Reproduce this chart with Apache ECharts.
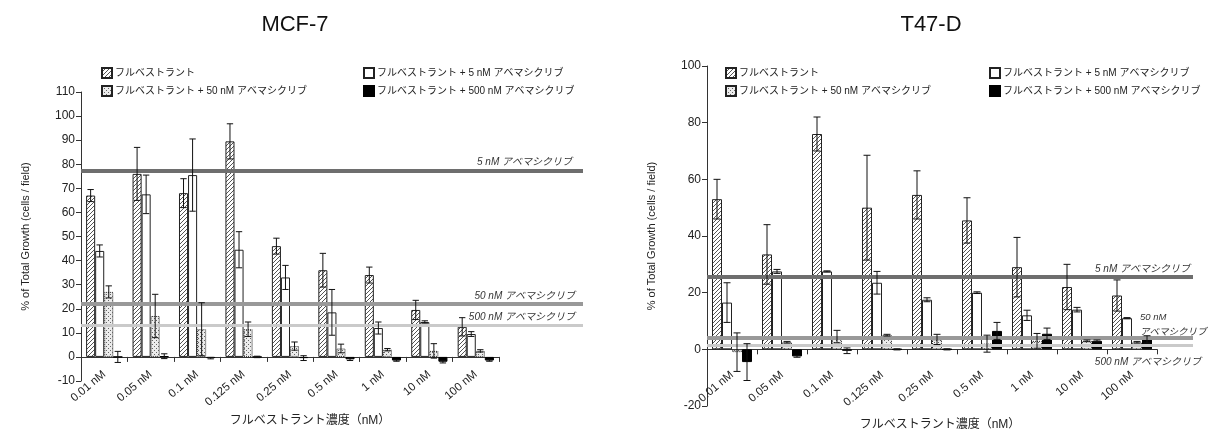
<!DOCTYPE html>
<html>
<head>
<meta charset="utf-8">
<script src="https://cdn.jsdelivr.net/npm/echarts@6/dist/echarts.min.js"></script>
<style>
    html, body { margin: 0; padding: 0; background: #fff; }
    #main { width: 1213px; height: 432px; }
</style>
</head>
<body>
<div id="main"></div>
<script>
var categories = ['0.01 nM', '0.05 nM', '0.1 nM', '0.125 nM', '0.25 nM', '0.5 nM', '1 nM', '10 nM', '100 nM'];
var seriesNames = ['フルベストラント', 'フルベストラント + 5 nM アベマシクリブ', 'フルベストラント + 50 nM アベマシクリブ', 'フルベストラント + 500 nM アベマシクリブ'];

// MCF-7
var mcfFul = [67, 76, 68, 89.5, 46, 36, 34, 19.5, 12.5];
var mcfFulErr = [2.5, 11, 6, 7.3, 3.3, 7, 3.3, 4, 3.8];
var mcf5 = [44, 67.5, 75.5, 44.5, 33, 18.5, 12, 14.5, 9.5];
var mcf5Err = [2.5, 8, 15, 7.5, 5, 9.5, 2.5, 0.5, 1];
var mcf50 = [27, 17, 11.5, 11.5, 4.5, 3.5, 3, 2.5, 2.5];
var mcf50Err = [2.5, 9, 11, 3, 1.7, 1.8, 0.5, 3, 0.5];
var mcf500 = [0, 0.3, -0.5, 0, -0.5, -1, -1.5, -2, -1.5];
var mcf500Err = [2.3, 1, 0.3, 0.3, 1, 0.5, 0.3, 0.5, 0.3];
var mcfRef = [77.5, 22, 13.3];

// T47-D
var t47Ful = [53, 33.5, 76, 50, 54.5, 45.5, 29, 22, 19];
var t47FulErr = [7, 10.5, 6, 18.5, 8.5, 8, 10.5, 8, 5.5];
var t475 = [16.5, 27.5, 27.5, 23.5, 17.5, 20, 12, 14, 11];
var t475Err = [7, 0.7, 0.2, 4, 0.7, 0.3, 1.8, 0.8, 0.2];
var t4750 = [-1, 2.5, 4.5, 5, 3.5, 2, 3, 3, 2.5];
var t4750Err = [6.8, 0.3, 2.2, 0.3, 1.8, 3, 2.6, 0.3, 0.3];
var t47500 = [-4.5, -2.5, -0.5, 0, 0, 6.5, 5.5, 3, 3.5];
var t47500Err = [6.5, 0.3, 1, 0.2, 0.2, 3, 2, 0.3, 1.3];
var t47Ref = [25.5, 4, 1.5];

var refNames = ['5 nM アベマシクリブ', '50 nM アベマシクリブ', '500 nM アベマシクリブ'];

var FONT = "'Liberation Sans', 'Noto Sans CJK JP', sans-serif";

function hatchPattern() {
    var c = document.createElement('canvas');
    c.width = 4; c.height = 4;
    var ctx = c.getContext('2d');
    ctx.fillStyle = '#fff';
    ctx.fillRect(0, 0, 4, 4);
    ctx.strokeStyle = '#555';
    ctx.lineWidth = 1;
    ctx.beginPath();
    ctx.moveTo(-1, 5); ctx.lineTo(5, -1);
    ctx.moveTo(-3, 3); ctx.lineTo(3, -3);
    ctx.moveTo(1, 7); ctx.lineTo(7, 1);
    ctx.stroke();
    return c;
}

function dotPattern() {
    var c = document.createElement('canvas');
    c.width = 4; c.height = 4;
    var ctx = c.getContext('2d');
    ctx.fillStyle = '#ececec';
    ctx.fillRect(0, 0, 4, 4);
    ctx.fillStyle = '#666';
    ctx.fillRect(0, 0, 1, 1);
    ctx.fillRect(2, 2, 1, 1);
    return c;
}

var styles = [
    { color: { image: hatchPattern(), repeat: 'repeat' }, borderColor: '#222', borderWidth: 1 },
    { color: '#fff', borderColor: '#222', borderWidth: 1 },
    { color: { image: dotPattern(), repeat: 'repeat' }, borderColor: '#222', borderWidth: 1, borderType: 'dotted' },
    { color: '#000', borderColor: '#000', borderWidth: 1 }
];

function errorRenderer(k, gap) {
    return function (params, api) {
        var cat = api.value(0), v = api.value(1), e = api.value(2);
        var cw = api.size([1, 0])[0];
        var bw = cw * (1 - gap) / 4;
        var x = api.coord([cat, 0])[0] + (k - 1.5) * bw;
        var yTop = api.coord([cat, v + e])[1];
        var yBot = api.coord([cat, v - e])[1];
        var cap = bw * 0.35;
        var st = { stroke: '#111', lineWidth: 1 };
        return {
            type: 'group',
            children: [
                { type: 'line', shape: { x1: x, y1: yTop, x2: x, y2: yBot }, style: st },
                { type: 'line', shape: { x1: x - cap, y1: yTop, x2: x + cap, y2: yTop }, style: st },
                { type: 'line', shape: { x1: x - cap, y1: yBot, x2: x + cap, y2: yBot }, style: st }
            ]
        };
    };
}

function buildSeries(axisIdx, gap, values, errs, refs, refLabels) {
    var out = [];
    for (var k = 0; k < 4; k++) {
        out.push({
            name: seriesNames[k],
            type: 'bar',
            xAxisIndex: axisIdx,
            yAxisIndex: axisIdx,
            barGap: 0,
            barCategoryGap: (gap * 100) + '%',
            itemStyle: styles[k],
            z: 2,
            data: values[k]
        });
    }
    for (var k = 0; k < 4; k++) {
        var d = [];
        for (var i = 0; i < categories.length; i++) {
            d.push([i, values[k][i], errs[k][i]]);
        }
        out.push({
            name: 'err' + k,
            type: 'custom',
            xAxisIndex: axisIdx,
            yAxisIndex: axisIdx,
            renderItem: errorRenderer(k, gap),
            encode: { x: 0, y: 1 },
            z: 5,
            data: d
        });
    }
    var lineCols = ['#6e6e6e', '#999999', '#cacaca'];
    var lineW = [4, 4, 3];
    var mdata = [];
    for (var j = 0; j < 3; j++) {
        mdata.push({
            yAxis: refs[j],
            lineStyle: { color: lineCols[j], width: lineW[j], type: 'solid' },
            label: refLabels[j]
        });
    }
    out.push({
        name: 'ref',
        type: 'line',
        xAxisIndex: axisIdx + 2,
        yAxisIndex: axisIdx + 2,
        data: [],
        z: 4,
        markLine: {
            silent: true,
            symbol: 'none',
            animation: false,
            data: mdata
        }
    });
    return out;
}

function refLabel(text, pos, extra) {
    var l = {
        show: true,
        formatter: text,
        position: pos,
        fontStyle: 'italic',
        fontSize: 10,
        color: '#333',
        fontFamily: FONT,
        distance: 3
    };
    for (var key in extra) l[key] = extra[key];
    return l;
}

var mcfLabels = [
    refLabel(refNames[0], 'insideEndTop', { offset: [-8, 0] }),
    refLabel(refNames[1], 'insideEndTop', { offset: [-5, 0] }),
    refLabel(refNames[2], 'insideEndTop', { offset: [-5, 0] })
];
var t47Labels = [
    refLabel(refNames[0], 'insideEndTop', {}),
    refLabel('{a|50 nM}\n{a|アベマシクリブ}', 'insideEndTop', {
        distance: 1,
        offset: [16, 3],
        rich: { a: { width: 68, align: 'left', fontStyle: 'italic', fontSize: 9.5, color: '#333', fontFamily: FONT, lineHeight: 15 } }
    }),
    refLabel(refNames[2], 'insideEndBottom', { distance: 12, offset: [20, 0] })
];

var grids = [
    { left: 81, top: 92, width: 418, height: 289, outerBoundsMode: 'none' },
    { left: 707, top: 66, width: 450, height: 340, outerBoundsMode: 'none' },
    { left: 81, top: 92, width: 502, height: 289, outerBoundsMode: 'none' },
    { left: 707, top: 66, width: 486, height: 340, outerBoundsMode: 'none' }
];

// category axis sits at value 0: lift it from the grid bottom
function catAxis(idx, min, max, nameGap, pad, labelMargin) {
    var lift = -min / (max - min) * grids[idx].height;
    return {
        type: 'category',
        gridIndex: idx,
        data: categories,
        offset: -lift,
        axisLine: { onZero: false, lineStyle: { color: '#333', width: 1 } },
        axisTick: { show: true, length: 5, lineStyle: { color: '#333' } },
        axisLabel: { rotate: 40, fontSize: 11.5, color: '#222', fontFamily: FONT, margin: labelMargin, interval: 0 },
        name: 'フルベストラント濃度（nM）',
        nameLocation: 'middle',
        nameGap: nameGap,
        nameTextStyle: { fontSize: 12, color: '#222', fontFamily: FONT, padding: pad }
    };
}

function valAxis(idx, min, max, interval, nameGap) {
    return {
        type: 'value',
        gridIndex: idx,
        min: min,
        max: max,
        interval: interval,
        splitLine: { show: false },
        axisLine: { show: true, lineStyle: { color: '#333', width: 1 } },
        axisTick: { show: true, length: 5, lineStyle: { color: '#333' } },
        axisLabel: { fontSize: 12, color: '#222', fontFamily: FONT, margin: 6 },
        name: '% of Total Growth (cells / field)',
        nameLocation: 'middle',
        nameRotate: 90,
        nameGap: nameGap,
        nameTextStyle: { fontSize: 11, color: '#222', fontFamily: FONT }
    };
}

function hiddenVal(idx, min, max) {
    return { type: 'value', gridIndex: idx, min: min, max: max, show: false, splitLine: { show: false } };
}

var legendBase = {
    orient: 'vertical',
    icon: 'rect',
    itemWidth: 10,
    itemHeight: 10,
    itemGap: 6,
    selectedMode: false,
    textStyle: { fontSize: 10, color: '#222', fontFamily: FONT, padding: [0, 0, 0, -2] }
};
function legendAt(left, names) {
    var l = { left: left, top: 62, data: names };
    for (var key in legendBase) l[key] = legendBase[key];
    return l;
}

var chart = echarts.init(document.getElementById('main'));

var series = []
    .concat(buildSeries(0, 0.22, [mcfFul, mcf5, mcf50, mcf500], [mcfFulErr, mcf5Err, mcf50Err, mcf500Err], mcfRef, mcfLabels))
    .concat(buildSeries(1, 0.2, [t47Ful, t475, t4750, t47500], [t47FulErr, t475Err, t4750Err, t47500Err], t47Ref, t47Labels));

var option = {
    animation: false,
    backgroundColor: '#fff',
    textStyle: { fontFamily: FONT },
    title: [
        { text: 'MCF-7', left: 290, top: 9, textAlign: 'center', textStyle: { fontSize: 22, fontWeight: 'normal', color: '#111', fontFamily: FONT } },
        { text: 'T47-D', left: 926, top: 9, textAlign: 'center', textStyle: { fontSize: 22, fontWeight: 'normal', color: '#111', fontFamily: FONT } }
    ],
    legend: [
        legendAt(96, [seriesNames[0], seriesNames[2]]),
        legendAt(358, [seriesNames[1], seriesNames[3]]),
        legendAt(720, [seriesNames[0], seriesNames[2]]),
        legendAt(984, [seriesNames[1], seriesNames[3]])
    ],
    grid: grids,
    xAxis: [
        catAxis(0, -10, 110, 57, [0, 0, 0, 40], 16),
        catAxis(1, -20, 100, 69, [0, 0, 0, 16], 24),
        { type: 'value', gridIndex: 2, min: 0, max: 1, show: false },
        { type: 'value', gridIndex: 3, min: 0, max: 1, show: false }
    ],
    yAxis: [
        valAxis(0, -10, 110, 10, 50),
        valAxis(1, -20, 100, 20, 50),
        hiddenVal(2, -10, 110),
        hiddenVal(3, -20, 100)
    ],
    series: series
};

chart.setOption(option);
</script>
</body>
</html>
